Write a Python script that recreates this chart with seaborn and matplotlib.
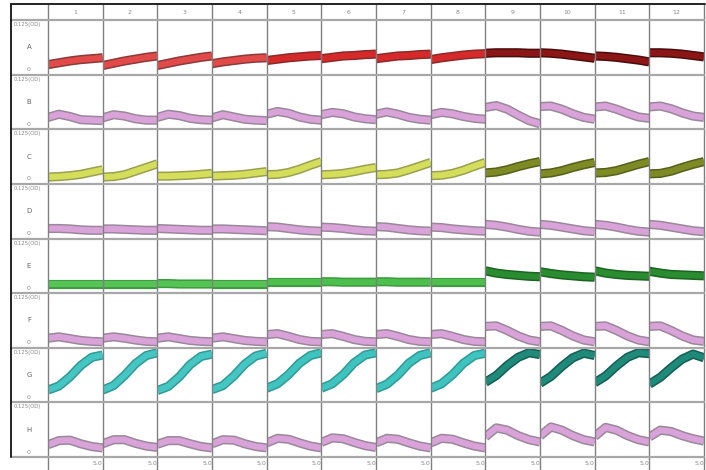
import matplotlib
matplotlib.use("Agg")
import matplotlib.pyplot as plt
from matplotlib.lines import Line2D
import seaborn as sns
import pandas as pd

sns.set_theme(style="white")
plt.rcParams['font.family'] = ['DejaVu Sans']

# ---- data -------------------------------------------------------------
COLUMNS = ["1", "2", "3", "4", "5", "6", "7", "8", "9", "10", "11", "12"]
ROWS = ["A", "B", "C", "D", "E", "F", "G", "H"]
TIME = [0, 1, 2, 3, 4, 5]
Y_TOP_LABEL = "0.125(OD)"
Y_ZERO_LABEL = "0"
X_END_LABEL = "5.0"

ROW_A = [
    [0.11, 0.15, 0.19, 0.22, 0.24, 0.26],
    [0.09, 0.14, 0.19, 0.23, 0.27, 0.30],
    [0.09, 0.14, 0.19, 0.23, 0.27, 0.30],
    [0.13, 0.17, 0.20, 0.23, 0.25, 0.26],
    [0.20, 0.23, 0.26, 0.28, 0.30, 0.31],
    [0.24, 0.27, 0.30, 0.31, 0.33, 0.34],
    [0.24, 0.27, 0.30, 0.31, 0.33, 0.34],
    [0.22, 0.26, 0.29, 0.32, 0.34, 0.35],
    [0.36, 0.37, 0.37, 0.37, 0.36, 0.36],
    [0.37, 0.36, 0.34, 0.31, 0.28, 0.25],
    [0.30, 0.29, 0.27, 0.24, 0.21, 0.17],
    [0.37, 0.37, 0.36, 0.34, 0.31, 0.28],
]
ROW_B = [
    [0.15, 0.22, 0.17, 0.10, 0.09, 0.08],
    [0.14, 0.21, 0.18, 0.12, 0.09, 0.09],
    [0.15, 0.22, 0.19, 0.13, 0.10, 0.09],
    [0.14, 0.21, 0.16, 0.11, 0.09, 0.08],
    [0.22, 0.28, 0.24, 0.16, 0.11, 0.09],
    [0.21, 0.26, 0.23, 0.16, 0.12, 0.10],
    [0.22, 0.27, 0.22, 0.15, 0.11, 0.09],
    [0.21, 0.26, 0.23, 0.17, 0.13, 0.11],
    [0.37, 0.41, 0.33, 0.20, 0.08, 0.01],
    [0.39, 0.40, 0.33, 0.23, 0.15, 0.11],
    [0.38, 0.40, 0.33, 0.24, 0.16, 0.13],
    [0.38, 0.40, 0.34, 0.25, 0.18, 0.15],
]
ROW_C = [
    [0.04, 0.05, 0.07, 0.10, 0.15, 0.20],
    [0.04, 0.05, 0.09, 0.17, 0.25, 0.33],
    [0.06, 0.06, 0.07, 0.08, 0.10, 0.12],
    [0.06, 0.07, 0.08, 0.10, 0.13, 0.16],
    [0.09, 0.10, 0.14, 0.21, 0.30, 0.38],
    [0.09, 0.10, 0.12, 0.16, 0.21, 0.25],
    [0.09, 0.10, 0.13, 0.20, 0.28, 0.36],
    [0.07, 0.08, 0.12, 0.19, 0.28, 0.36],
    [0.13, 0.15, 0.20, 0.27, 0.33, 0.38],
    [0.11, 0.13, 0.18, 0.25, 0.31, 0.36],
    [0.13, 0.14, 0.18, 0.25, 0.32, 0.38],
    [0.11, 0.12, 0.17, 0.25, 0.32, 0.38],
]
ROW_D = [
    [0.11, 0.11, 0.10, 0.08, 0.07, 0.07],
    [0.10, 0.10, 0.09, 0.08, 0.07, 0.07],
    [0.11, 0.10, 0.09, 0.08, 0.07, 0.07],
    [0.10, 0.10, 0.09, 0.08, 0.07, 0.06],
    [0.15, 0.14, 0.11, 0.08, 0.06, 0.05],
    [0.14, 0.13, 0.11, 0.08, 0.06, 0.05],
    [0.15, 0.14, 0.11, 0.08, 0.06, 0.05],
    [0.14, 0.13, 0.10, 0.08, 0.06, 0.05],
    [0.20, 0.18, 0.14, 0.09, 0.05, 0.03],
    [0.20, 0.18, 0.14, 0.10, 0.06, 0.04],
    [0.20, 0.18, 0.14, 0.09, 0.05, 0.03],
    [0.20, 0.18, 0.14, 0.10, 0.06, 0.04],
]
ROW_E = [
    [0.09, 0.09, 0.09, 0.09, 0.09, 0.09],
    [0.09, 0.09, 0.09, 0.09, 0.09, 0.09],
    [0.10, 0.10, 0.09, 0.09, 0.09, 0.09],
    [0.09, 0.09, 0.09, 0.09, 0.09, 0.09],
    [0.13, 0.13, 0.13, 0.13, 0.13, 0.13],
    [0.14, 0.14, 0.13, 0.13, 0.13, 0.13],
    [0.14, 0.14, 0.13, 0.13, 0.13, 0.13],
    [0.13, 0.13, 0.13, 0.13, 0.13, 0.13],
    [0.38, 0.33, 0.30, 0.28, 0.26, 0.25],
    [0.36, 0.32, 0.29, 0.27, 0.25, 0.24],
    [0.38, 0.33, 0.30, 0.28, 0.27, 0.26],
    [0.37, 0.33, 0.30, 0.29, 0.28, 0.27],
]
ROW_F = [
    [0.10, 0.13, 0.09, 0.05, 0.03, 0.02],
    [0.10, 0.13, 0.10, 0.06, 0.03, 0.02],
    [0.10, 0.13, 0.09, 0.05, 0.03, 0.02],
    [0.10, 0.13, 0.09, 0.05, 0.03, 0.02],
    [0.18, 0.20, 0.14, 0.07, 0.03, 0.02],
    [0.18, 0.20, 0.14, 0.07, 0.03, 0.02],
    [0.18, 0.20, 0.14, 0.07, 0.03, 0.02],
    [0.18, 0.20, 0.14, 0.07, 0.03, 0.02],
    [0.36, 0.37, 0.27, 0.15, 0.06, 0.02],
    [0.36, 0.37, 0.27, 0.15, 0.06, 0.02],
    [0.36, 0.37, 0.27, 0.15, 0.06, 0.02],
    [0.36, 0.37, 0.27, 0.15, 0.06, 0.03],
]
ROW_G = [
    [0.16, 0.25, 0.45, 0.70, 0.88, 0.93],
    [0.16, 0.26, 0.48, 0.74, 0.92, 0.98],
    [0.15, 0.24, 0.45, 0.72, 0.90, 0.95],
    [0.17, 0.26, 0.47, 0.73, 0.91, 0.97],
    [0.20, 0.30, 0.50, 0.75, 0.92, 0.98],
    [0.20, 0.30, 0.50, 0.76, 0.93, 0.98],
    [0.19, 0.29, 0.49, 0.75, 0.92, 0.98],
    [0.20, 0.30, 0.50, 0.75, 0.92, 0.97],
    [0.33, 0.48, 0.70, 0.88, 0.98, 0.94],
    [0.31, 0.46, 0.68, 0.87, 0.97, 0.92],
    [0.32, 0.47, 0.69, 0.88, 0.98, 0.96],
    [0.29, 0.44, 0.65, 0.84, 0.95, 0.87],
]
ROW_H = [
    [0.16, 0.25, 0.26, 0.18, 0.12, 0.09],
    [0.18, 0.27, 0.27, 0.19, 0.13, 0.10],
    [0.17, 0.25, 0.25, 0.18, 0.12, 0.09],
    [0.18, 0.27, 0.26, 0.18, 0.12, 0.09],
    [0.20, 0.30, 0.28, 0.20, 0.13, 0.09],
    [0.21, 0.31, 0.29, 0.21, 0.14, 0.10],
    [0.20, 0.30, 0.28, 0.20, 0.13, 0.09],
    [0.20, 0.30, 0.28, 0.20, 0.13, 0.09],
    [0.33, 0.53, 0.48, 0.36, 0.27, 0.22],
    [0.35, 0.55, 0.48, 0.36, 0.27, 0.22],
    [0.34, 0.54, 0.48, 0.36, 0.27, 0.22],
    [0.33, 0.48, 0.45, 0.36, 0.29, 0.24],
]
ROW_DATA = [ROW_A, ROW_B, ROW_C, ROW_D, ROW_E, ROW_F, ROW_G, ROW_H]

# colours per row: (cols 1-4, cols 5-8, cols 9-12)
PLUM = ("#d9a3d9", "#d9a3d9", "#d9a3d9")
ROW_COLORS = [
    ("#e24a4a", "#d62a2a", "#8c1616"),
    PLUM,
    ("#d4de5a", "#d4de5a", "#7e8a24"),
    PLUM,
    ("#55c455", "#4cbf4c", "#2a8c30"),
    PLUM,
    ("#45c6c2", "#3ec3be", "#1f8a7a"),
    PLUM,
]
EDGE_COLORS = [
    ("#8a3a3a", "#8a2a2a", "#4a0c0c"),
    ("#9a889a", "#9a889a", "#9a889a"),
    ("#9aa050", "#9aa050", "#56601a"),
    ("#9a889a", "#9a889a", "#9a889a"),
    ("#3f9a3f", "#3f9a3f", "#1d6422"),
    ("#9a889a", "#9a889a", "#9a889a"),
    ("#2f9a96", "#2f9a96", "#145e52"),
    ("#9a889a", "#9a889a", "#9a889a"),
]

# ---- layout -----------------------------------------------------------
W, H = 706, 470
fig = plt.figure(figsize=(W / 100, H / 100), dpi=100)
fig.patch.set_facecolor("white")

X_LEFT, X_RIGHT = 48, 704
Y_TOP, Y_BOT = 20, 457
gs = fig.add_gridspec(8, 12, left=X_LEFT / W, right=X_RIGHT / W,
                      top=1 - Y_TOP / H, bottom=1 - Y_BOT / H,
                      wspace=0, hspace=0)

def fx(px):
    return px / W

def fy(py):
    return 1 - py / H

col_w = (X_RIGHT - X_LEFT) / 12
row_h = (Y_BOT - Y_TOP) / 8
TXT = "#8a8a8a"

for r, rowname in enumerate(ROWS):
    for c, colname in enumerate(COLUMNS):
        ax = fig.add_subplot(gs[r, c])
        grp = c // 4
        df = pd.DataFrame({"t": TIME, "v": ROW_DATA[r][c]})
        sns.lineplot(data=df, x="t", y="v", ax=ax, color=EDGE_COLORS[r][grp],
                     lw=6.6, legend=False, solid_capstyle="butt",
                     solid_joinstyle="round")
        sns.lineplot(data=df, x="t", y="v", ax=ax, color=ROW_COLORS[r][grp],
                     lw=4.4, legend=False, solid_capstyle="butt",
                     solid_joinstyle="round")
        ax.set_xlim(0, 5)
        ax.set_ylim(-0.11, 1.09)
        ax.set_xlabel("")
        ax.set_ylabel("")
        ax.set_yticks([])
        if r == len(ROWS) - 1:
            ax.set_xticks([5])
            ax.set_xticklabels([X_END_LABEL], fontsize=4.5, color=TXT, ha="right")
            ax.tick_params(axis="x", length=0, pad=3)
        else:
            ax.set_xticks([])
        ax.set_facecolor("white")
        for s in ax.spines.values():
            s.set_visible(False)

# vertical separators (full height incl. header)
for c in range(13):
    x = fx(X_LEFT + c * col_w)
    fig.add_artist(Line2D([x, x], [fy(4), fy(H)], color="#808080", lw=1.0))
# horizontal separators (from left border)
for r in range(9):
    y = fy(Y_TOP + r * row_h)
    fig.add_artist(Line2D([fx(11), fx(X_RIGHT)], [y, y], color="#a8a8a8", lw=1.6))
# outer border
fig.add_artist(Line2D([fx(11), fx(11)], [fy(4), fy(Y_BOT)], color="#222222", lw=1.4))
fig.add_artist(Line2D([fx(11), fx(705)], [fy(4), fy(4)], color="#222222", lw=1.4))

# header numbers
for c, colname in enumerate(COLUMNS):
    fig.text(fx(X_LEFT + (c + 0.5) * col_w), fy(12), colname, ha="center",
             va="center", fontsize=4.5, color=TXT)

# row labels
for r, rowname in enumerate(ROWS):
    top = Y_TOP + r * row_h
    fig.text(fx(14), fy(top + 4.5), Y_TOP_LABEL, ha="left", va="center",
             fontsize=3.8, color=TXT)
    fig.text(fx(29), fy(top + row_h * 0.5), rowname, ha="center", va="center",
             fontsize=5, color="#666666")
    fig.text(fx(29), fy(top + row_h - 5), Y_ZERO_LABEL, ha="center", va="center",
             fontsize=4.5, color=TXT)

fig.savefig("out.png", dpi=100, facecolor="white")
